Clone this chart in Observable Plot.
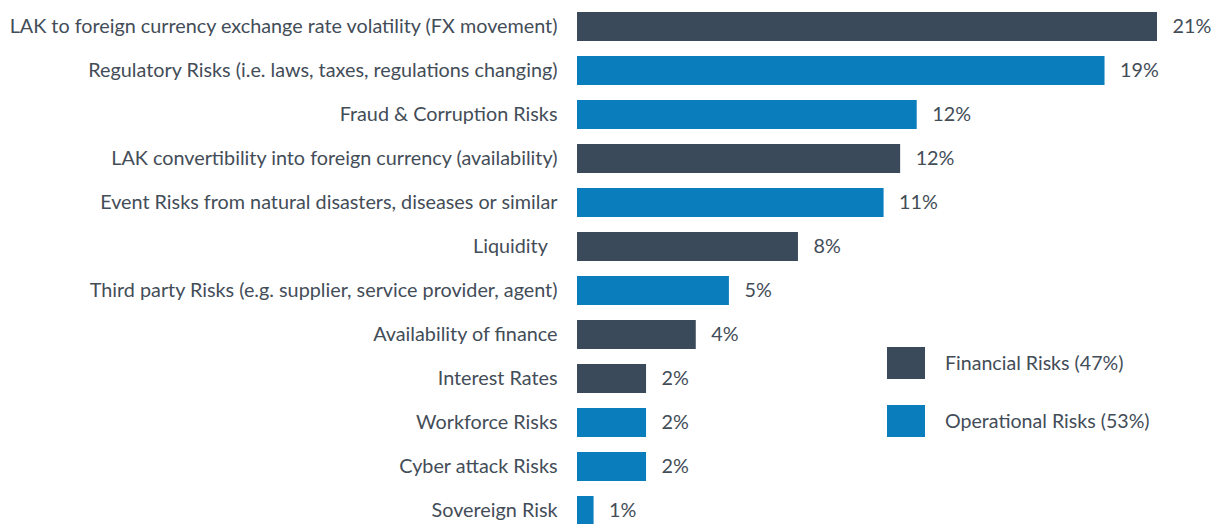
<!DOCTYPE html>
<html>
<head>
<meta charset="utf-8">
<script src="https://cdn.jsdelivr.net/npm/d3@7"></script>
<script src="https://cdn.jsdelivr.net/npm/@observablehq/plot@0.6"></script>
<style>
  html, body { margin: 0; padding: 0; background: #fff; overflow: hidden; }
  #wrap { position: relative; width: 1215px; height: 524px; overflow: hidden; font-family: Lato, sans-serif; }
  .legend { position: absolute; left: 887px; color: #434d58; font-size: 19.6px; }
  .legend .item { position: absolute; left: 0; width: 320px; height: 33px; }
  .legend .sw { position: absolute; left: 0; top: 0; width: 38px; height: 32px; }
  .legend .lab { position: absolute; left: 58px; top: 0; line-height: 32px; white-space: nowrap; }
</style>
</head>
<body>
<div id="wrap"></div>
<script>
const categories = [
  "LAK to foreign currency exchange rate volatility (FX movement)",
  "Regulatory Risks (i.e. laws, taxes, regulations changing)",
  "Fraud & Corruption Risks",
  "LAK convertibility into foreign currency (availability)",
  "Event Risks from natural disasters, diseases or similar",
  "Liquidity\u00a0\u00a0",
  "Third party Risks (e.g. supplier, service provider, agent)",
  "Availability of finance",
  "Interest Rates",
  "Workforce Risks",
  "Cyber attack Risks",
  "Sovereign Risk"
];
const values = [21.0, 19.1, 12.3, 11.7, 11.1, 8.0, 5.5, 4.3, 2.5, 2.5, 2.5, 0.6];
const valueLabels = ["21%", "19%", "12%", "12%", "11%", "8%", "5%", "4%", "2%", "2%", "2%", "1%"];
const groups = ["Financial", "Operational", "Operational", "Financial", "Operational", "Financial",
                "Operational", "Financial", "Financial", "Operational", "Operational", "Operational"];
const legendNames = ["Financial Risks (47%)", "Operational Risks (53%)"];
const groupKeys = ["Financial", "Operational"];
const groupColors = ["#3b4a5a", "#0a7dbd"];

const data = categories.map((c, i) => ({cat: c, value: values[i], label: valueLabels[i], group: groups[i]}));

const chart = Plot.plot({
  width: 1215,
  height: 534,
  marginLeft: 577,
  marginRight: 58,
  marginTop: 3.4,
  marginBottom: 0,
  style: {fontFamily: "Lato, sans-serif", fontSize: "19.8px", color: "#434d58", background: "#fff"},
  x: {domain: [0, 21], axis: null},
  y: {domain: categories, paddingInner: 0.34, paddingOuter: 0.17, label: null, tickSize: 0, tickPadding: 20},
  color: {domain: groupKeys, range: groupColors},
  marks: [
    Plot.barX(data, {x: "value", y: "cat", fill: "group"}),
    Plot.text(data, {x: "value", y: "cat", text: "label", textAnchor: "start", dx: 15, fill: "#434d58", fontSize: 19.8})
  ]
});
document.getElementById("wrap").appendChild(chart);

const legend = document.createElement("div");
legend.className = "legend";
legend.style.top = "347px";
legendNames.forEach((name, i) => {
  const item = document.createElement("div");
  item.className = "item";
  item.style.top = (i * 58) + "px";
  item.innerHTML = `<div class="sw" style="background:${groupColors[i]}"></div><div class="lab">${name}</div>`;
  legend.appendChild(item);
});
document.getElementById("wrap").appendChild(legend);
</script>
</body>
</html>
